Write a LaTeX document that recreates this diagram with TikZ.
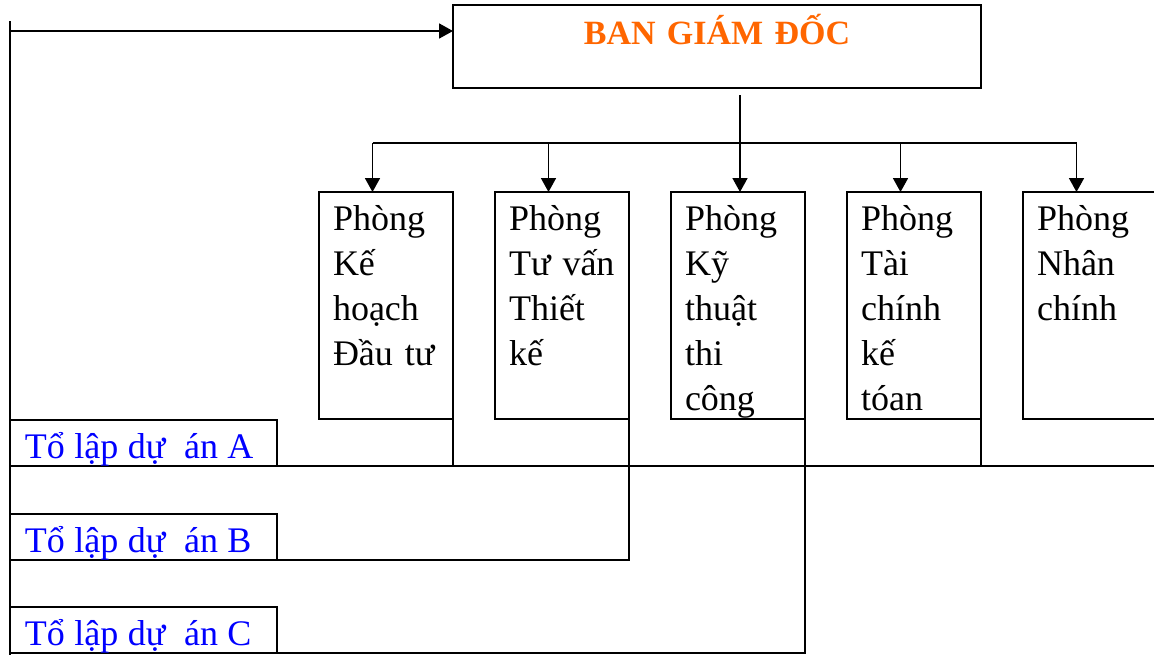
\documentclass[tikz,border=0pt]{standalone}
\usepackage{fontspec}
\setmainfont{Liberation Serif}
\usepackage{xcolor}
\usetikzlibrary{arrows.meta,positioning}
\definecolor{bgdorange}{HTML}{FF6600}

\begin{document}
\begin{tikzpicture}[x=0.5pt, y=-0.5pt, node distance=21pt, line width=0.85pt,
    head/.style={draw,line width=1pt,outer sep=0pt,inner sep=0pt,text width=264pt,align=center,text height=19.5pt,text depth=22pt,
      font=\fontsize{17}{20}\selectfont\bfseries,text=bgdorange},
    dept/.style={draw,line width=1pt,outer sep=0pt,inner xsep=7pt,inner ysep=0pt,text width=53pt,align=left,text height=19pt,text depth=94.5pt,
      font=\fontsize{18}{22.5}\selectfont},
    team/.style={draw,line width=1pt,outer sep=0pt,inner xsep=7.5pt,inner ysep=0pt,text width=118.5pt,align=left,text height=19pt,text depth=4pt,
      font=\fontsize{18}{22.5}\selectfont,text=blue,execute at begin node={\spaceskip=4.7pt\relax}},
    arr/.style={-{Triangle[length=7pt,width=7.5pt]}}]
  \clip (0,0) rectangle (1154,654);
  % ban giam doc
  \node[head,anchor=north west] (bgd) at (453,5) {BAN GIÁM ĐỐC};
  % cac phong
  \node[dept,anchor=north west] (kh) at (319,192) {Phòng\\Kế\\hoạch\\Đầu tư};
  \node[dept,right=of kh] (tv) {Phòng\\Tư vấn\\Thiết\\kế};
  \node[dept,right=of tv] (kt) {Phòng\\Kỹ\\thuật\\thi\\công};
  \node[dept,right=of kt] (tc) {Phòng\\Tài\\chính\\kế\\tóan};
  \node[dept,right=of tc] (nc) {Phòng\\Nhân\\chính};
  % to lap du an
  \node[team,anchor=north west] (ta) at (10,420) {\mbox{Tổ lập dự\hspace{9.4pt}án A}};
  \node[team,below=24pt of ta] (tb) {\mbox{Tổ lập dự\hspace{9.4pt}án B}};
  \node[team,below=23.5pt of tb] (tcc) {\mbox{Tổ lập dự\hspace{9.4pt}án C}};
  % duong noi
  \coordinate (top) at (10,21);
  \coordinate (bot) at (10,660);
  \coordinate (entry) at (10,31);
  \coordinate (stem) at (740,95);
  \coordinate (bus) at (740,143);
  \coordinate (rim) at (1160,0);
  \draw (top) -- (bot);
  \draw[arr] (entry) -- (entry -| bgd.west);
  \draw[arr] (stem) -- (stem |- kt.north);
  \foreach \d in {kh,tv,tc,nc}
    \coordinate (\d-in) at ([xshift=26.75pt]\d.north west);
  \draw (bus -| kh-in) -- (bus -| nc-in);
  \foreach \d in {kh,tv,tc,nc}
    \draw[arr] (bus -| \d-in) -- (\d-in);
  \draw (ta.south east) -- (ta.south east -| rim);
  \draw (kh.south east) -- (kh.south east |- ta.south);
  \draw (tc.south east) -- (tc.south east |- ta.south);
  \draw (tv.south east) |- (tb.south east);
  \draw (kt.south east) |- (tcc.south east);
\end{tikzpicture}
\end{document}
